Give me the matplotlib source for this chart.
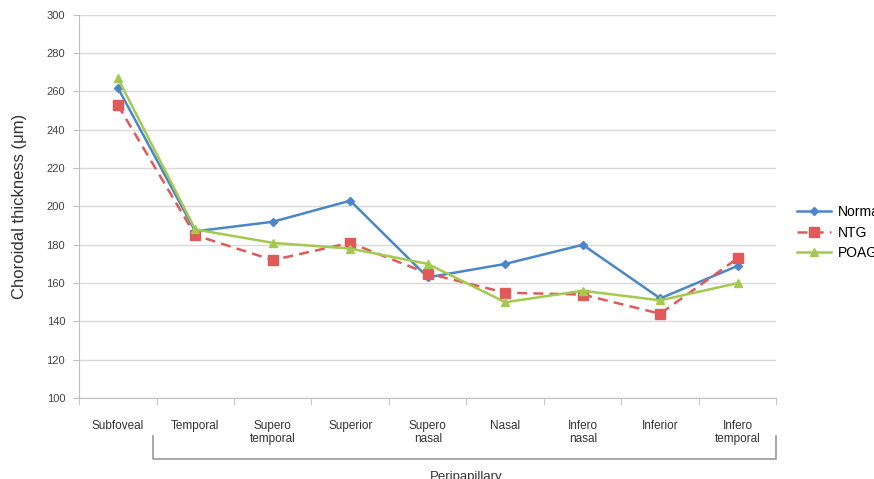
import matplotlib
matplotlib.use("Agg")
import matplotlib.pyplot as plt
import matplotlib.transforms as mtransforms

plt.rcParams["font.family"] = ["Liberation Sans", "DejaVu Sans"]

CATEGORIES = ["Subfoveal", "Temporal", "Supero\ntemporal", "Superior", "Supero\nnasal",
              "Nasal", "Infero\nnasal", "Inferior", "Infero\ntemporal"]
NORMAL = [262, 187, 192, 203, 163, 170, 180, 152, 169]
NTG = [253, 185, 172, 181, 165, 155, 154, 144, 173]
POAG = [267, 188, 181, 178, 170, 150, 156, 151, 160]
YTICKS = [100, 120, 140, 160, 180, 200, 220, 240, 260, 280, 300]

fig = plt.figure(figsize=(8.74, 4.79), dpi=100)
ax = fig.add_axes([0.0904, 0.169, 0.798, 0.8])
x = list(range(len(CATEGORIES)))

ln1, = ax.plot(x, NORMAL, color="#4a86c8", lw=1.8, marker="D", ms=4.5, label="Normal", zorder=3)
ln2, = ax.plot(x, NTG, color="#e05a5a", lw=1.8, ls=(0, (4, 2.5)), marker="s", ms=6.5,
               label="NTG", zorder=3)
ln3, = ax.plot(x, POAG, color="#a4c94f", lw=1.8, marker="^", ms=6, label="POAG", zorder=4)

ax.set_xlim(-0.5, len(CATEGORIES) - 0.5)
ax.set_ylim(100, 300)
ax.set_yticks(YTICKS)
ax.tick_params(axis="y", length=4, color="#bfbfbf", labelsize=8, labelcolor="#444444", pad=6)
ax.grid(axis="y", color="#d9d9d9", lw=1)
ax.set_axisbelow(True)

ax.set_xticks(x)
ax.set_xticklabels(CATEGORIES, fontsize=8.5, color="#333333", va="top", linespacing=1.1)
ax.tick_params(axis="x", length=0, pad=16)
ax.set_xticks([i + 0.5 for i in range(-1, len(CATEGORIES))], minor=True)
ax.tick_params(axis="x", which="minor", length=5, color="#bfbfbf")

for s in ["top", "right"]:
    ax.spines[s].set_visible(False)
for s in ["left", "bottom"]:
    ax.spines[s].set_color("#bfbfbf")

ax.set_ylabel("Choroidal thickness (μm)", fontsize=12, color="#333333", labelpad=14)

# bracket under peripapillary sectors
tr = mtransforms.blended_transform_factory(ax.transData, ax.transAxes)
ax.plot([0.45, 0.45, 8.5, 8.5], [-0.10, -0.16, -0.16, -0.10], color="#999999", lw=1.2,
        transform=tr, clip_on=False)
ax.text(4.5, -0.19, "Peripapillary", transform=tr, ha="center", va="top", fontsize=9.5,
        color="#333333")

fig.legend(handles=[ln1, ln2, ln3], loc="upper left", bbox_to_anchor=(0.906, 0.583),
           frameon=False, fontsize=10, handlelength=2.4, handletextpad=0.5,
           labelspacing=0.45, borderaxespad=0)

fig.savefig("out.png", dpi=100)
